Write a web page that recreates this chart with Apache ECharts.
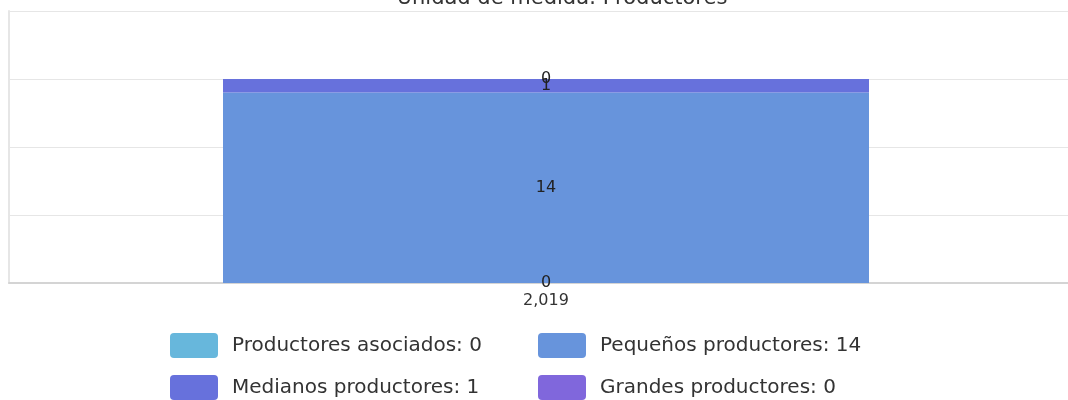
<!DOCTYPE html>
<html>
<head>
<meta charset="utf-8">
<script src="https://cdn.jsdelivr.net/npm/echarts@6/dist/echarts.min.js"></script>
<style>html,body{margin:0;padding:0;background:#fff;}#c{width:1068px;height:400px;}</style>
</head>
<body>
<div id="c"></div>
<script>
const categories = ['2,019'];
const seriesNames = ['Productores asociados', 'Pequeños productores', 'Medianos productores', 'Grandes productores'];
const asociados = [0];
const pequenos = [14];
const medianos = [1];
const grandes = [0];
const yTicks = [0, 5, 10, 15, 20];
const colors = ['#67b7dc', '#6794dc', '#6771dc', '#8067dc'];
const titleText = 'Unidad de medida: Productores';

const values = [asociados, pequenos, medianos, grandes];
const chart = echarts.init(document.getElementById('c'), null, {renderer: 'canvas'});
const font = 'DejaVu Sans';
const series = seriesNames.map((n, i) => ({
  name: n,
  type: 'bar',
  stack: 'total',
  data: values[i],
  barWidth: 646,
  itemStyle: {color: colors[i]},
  label: {show: true, position: 'inside', color: '#222', fontSize: 16, fontFamily: font}
}));
const legendPos = [[170, 333], [538, 333], [170, 375], [538, 375]];
const legends = seriesNames.map((n, i) => ({
  data: [n],
  left: legendPos[i][0], top: legendPos[i][1],
  padding: 0,
  itemWidth: 48, itemHeight: 25,
  icon: 'path://M4,0 L44,0 Q48,0 48,4 L48,21 Q48,25 44,25 L4,25 Q0,25 0,21 L0,4 Q0,0 4,0 Z',
  formatter: function (name) {
    const k = seriesNames.indexOf(name);
    return name + ': ' + values[k][0];
  },
  textStyle: {color: '#333', fontSize: 20, fontFamily: font, padding: [0, 0, 0, 9]},
  selectedMode: false
}));
chart.setOption({
  animation: false,
  title: {
    text: titleText, left: 557, top: -17, textAlign: 'center',
    textStyle: {fontSize: 21, fontWeight: 'normal', color: '#333', fontFamily: font}
  },
  grid: {left: 9, width: 1074, top: 11, bottom: 117, outerBoundsMode: 'none'},
  xAxis: {
    type: 'category', data: categories,
    axisLine: {show: true, lineStyle: {color: '#d4d4d4', width: 2}},
    axisTick: {show: false},
    axisLabel: {color: '#333', fontSize: 16, fontFamily: font, margin: 10}
  },
  yAxis: {
    type: 'value', min: yTicks[0], max: yTicks[yTicks.length - 1], interval: 5,
    axisLine: {show: true, lineStyle: {color: '#e6e6e6', width: 2}},
    axisTick: {show: false},
    axisLabel: {show: false},
    splitLine: {lineStyle: {color: '#e6e6e6', width: 1}}
  },
  legend: legends,
  series: series
});
</script>
</body>
</html>
